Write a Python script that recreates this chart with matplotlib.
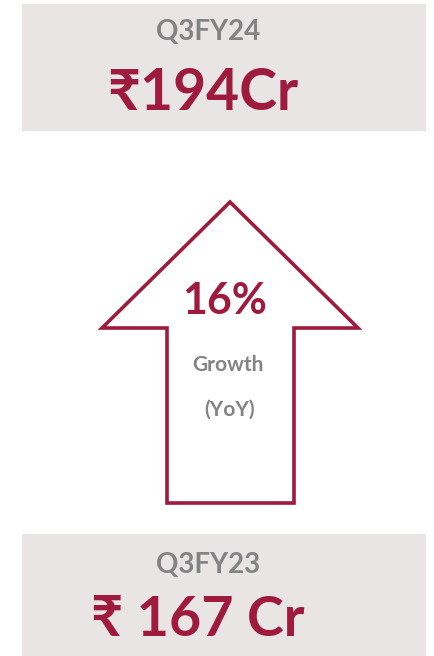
import matplotlib.pyplot as plt
from matplotlib.patches import Rectangle, Polygon

# data
quarters = ["Q3FY24", "Q3FY23"]
revenue_cr = [194, 167]
growth_pct = 16
growth_label = ["Growth", "(YoY)"]

crimson = "#9E1B3D"
grey_txt = "#838385"
box_col = "#E9E5E5"
fonts = ["Lato", "Noto Sans", "DejaVu Sans"]

fig = plt.figure(figsize=(4.34, 6.56), dpi=100)
ax = fig.add_axes([0, 0, 1, 1])
ax.set_xlim(0, 434)
ax.set_ylim(656, 0)
ax.axis("off")

# grey boxes top and bottom
ax.add_patch(Rectangle((22, 4), 404, 127, facecolor=box_col, edgecolor="none"))
ax.add_patch(Rectangle((22, 534), 404, 130, facecolor=box_col, edgecolor="none"))

# top box: current quarter
ax.text(208, 32, quarters[0], ha="center", va="center", fontsize=20,
        fontweight="bold", color=grey_txt, family=fonts)
ax.text(203, 93, "\u20b9%dCr" % revenue_cr[0], ha="center", va="center",
        fontsize=41, fontweight="bold", color=crimson, family=fonts)

# bottom box: last year's quarter
ax.text(208, 565, quarters[1], ha="center", va="center", fontsize=20,
        fontweight="bold", color=grey_txt, family=fonts)
ax.text(198, 620, "\u20b9 %d Cr" % revenue_cr[1], ha="center", va="center",
        fontsize=40, fontweight="bold", color=crimson, family=fonts)

# arrow outline
arrow = [(230, 202), (358, 328), (294, 328), (294, 503), (167, 503),
         (167, 328), (102, 328)]
ax.add_patch(Polygon(arrow, closed=True, facecolor="white",
                     edgecolor=crimson, linewidth=2.6, joinstyle="miter"))

ax.text(225, 301, "%d%%" % growth_pct, ha="center", va="center", fontsize=31,
        fontweight="bold", color=crimson, family=fonts)
ax.text(228, 365, growth_label[0], ha="center", va="center", fontsize=15,
        fontweight="bold", color=grey_txt, family=fonts)
ax.text(230, 410, growth_label[1], ha="center", va="center", fontsize=15,
        fontweight="bold", color=grey_txt, family=fonts)

fig.savefig("out.png", dpi=100)
